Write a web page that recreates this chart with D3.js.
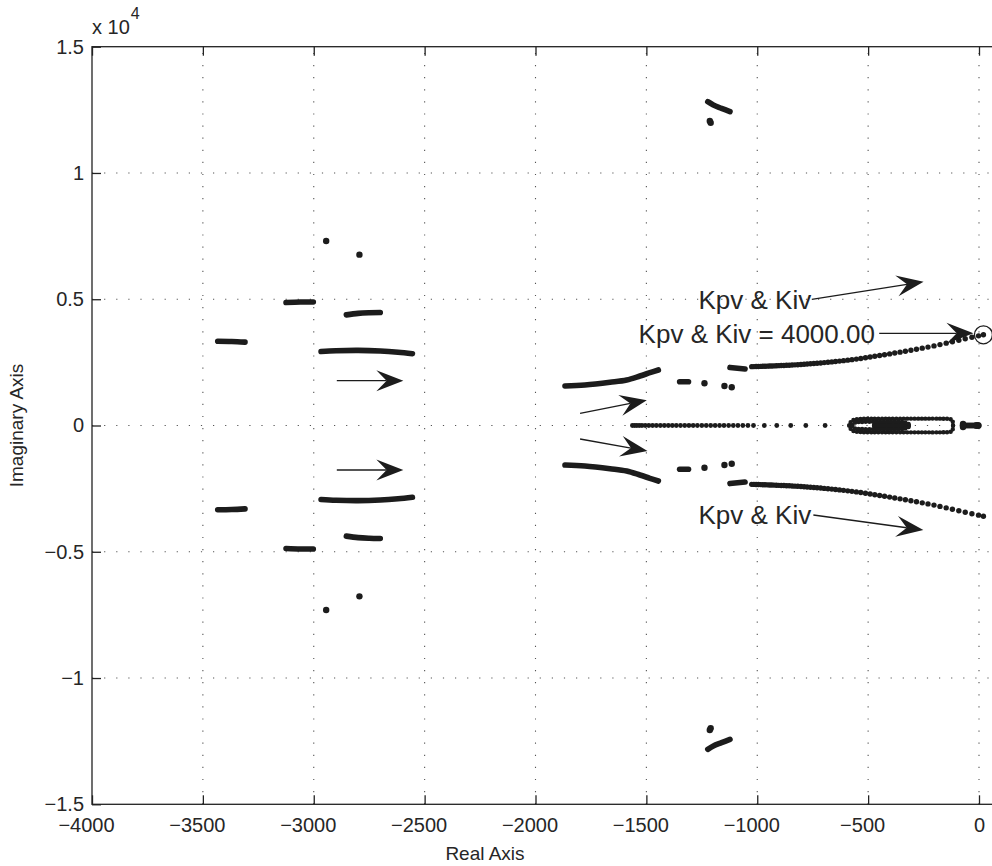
<!DOCTYPE html>
<html><head><meta charset="utf-8">
<script src="https://cdn.jsdelivr.net/npm/d3@7"></script>
<style>
body{margin:0;background:#fff}
svg{display:block}
text{font-family:"Liberation Sans",Arial,Helvetica,sans-serif;fill:#262626}
</style>
</head><body>
<svg id="c" width="992" height="866"></svg>
<script>
// ---------- tick data ----------
const xTicks = [-4000,-3500,-3000,-2500,-2000,-1500,-1000,-500,0];
const xTickLabels = ["−4000","−3500","−3000","−2500","−2000","−1500","−1000","−500","0"];
const yTicks = [-15000,-10000,-5000,0,5000,10000,15000];
const yTickLabels = ["−1.5","−1","−0.5","0","0.5","1","1.5"];

// ---------- root locus data (upper half; lower half is the conjugate) ----------
// dense (continuous-looking) locus segments
const solidSegments = [
  [[-3433,3335],[-3370,3325],[-3310,3300]],
  [[-3125,4870],[-3060,4890],[-3002,4890]],
  [[-2853,4380],[-2800,4440],[-2750,4465],[-2700,4475]],
  [[-2967,2930],[-2900,2960],[-2800,2975],[-2700,2950],[-2620,2900],[-2555,2840]],
  [[-1867,1564],[-1777,1604],[-1664,1711],[-1589,1802],[-1529,1960],[-1484,2091],[-1446,2198]],
  [[-1350,1735],[-1310,1735]],
  [[-1123,2300],[-1055,2240]],
  [[-1223,12822],[-1198,12692],[-1161,12560],[-1123,12426]],
  [[-470,0],[-320,0]],
  [[-72,0],[-5,0]]
];
// isolated locus points
const isolatedDots = [
  [-2944,7306],[-2794,6765],[-1238,1671],[-1148,1564],[-1115,1513],
  [-1210,11991],[-1214,12060],[-72,60],[-72,0],[-3,0],[-12,0]
];
// branch towards the right half plane
const rightBranch = [
  [-1025,2330],[-1015,2332],[-1005,2335],[-995,2338],[-985,2341],[-975,2344],[-965,2347],[-955,2350],
  [-945,2354],[-935,2357],[-925,2361],[-914,2365],[-903,2369],[-892,2373],[-880,2378],[-868,2383],
  [-856,2388],[-843,2394],[-830,2401],[-817,2408],[-803,2416],[-789,2424],[-775,2433],[-760,2443],
  [-745,2453],[-730,2464],[-714,2477],[-698,2490],[-681,2504],[-664,2519],[-647,2534],[-629,2551],
  [-611,2568],[-592,2587],[-573,2607],[-553,2630],[-533,2656],[-512,2683],[-491,2711],[-470,2740],
  [-448,2770],[-426,2800],[-403,2835],[-380,2870],[-356,2905],[-332,2940],[-307,2980],[-282,3020],
  [-256,3062],[-230,3105],[-203,3152],[-176,3204],[-148,3260],[-120,3318],[-91,3376],[-62,3434],
  [-32,3492],[-2,3550],[20,3592]
];
// points on the real axis
const realAxisDots = [
  -1563,-1553,-1543,-1532,-1520,-1505,-1489,-1472,-1455,-1437,-1419,-1401,-1383,-1365,-1346,-1327,
  -1308,-1289,-1270,-1250,-1230,-1210,-1190,-1170,-1150,-1129,-1108,-1087,-1065,-1042,-1017,-968,
  -912,-849,-781,-694
];
// small loop near the origin (drawn as closely packed points)
const loopOuter = [[-585,0],[-580,120],[-570,200],[-555,245],[-530,262],[-490,270],[-430,272],[-350,272],
  [-250,272],[-170,270],[-135,258],[-122,220],[-118,140],[-117,0]];
const loopInner = [[-572,30],[-560,110],[-530,140],[-470,148],[-400,148],[-340,135],[-318,70],[-316,0]];

// annotations
const arrows = [
  {from:[-2896,1774], to:[-2596,1774]},
  {from:[-2896,-1762], to:[-2596,-1762]},
  {from:[-1799,483], to:[-1498,1002]},
  {from:[-1799,-535], to:[-1495,-1010]},
  {from:[-754,4998], to:[-250,5695]},
  {from:[-450,3650], to:[-25,3650]},
  {from:[-747,-3544], to:[-251,-4138]}
];
const labels = [
  {text:"Kpv & Kiv", at:[-1265,4600], anchor:"start"},
  {text:"Kpv & Kiv = 4000.00", at:[-1535,3270], anchor:"start"},
  {text:"Kpv & Kiv", at:[-1265,-3900], anchor:"start"}
];
const endMarker = [20,3592];

// ---------- drawing ----------
const svg = d3.select("#c");
const x = d3.scaleLinear().domain([-4000,150]).range([92, 92 + 887/4000*4150]);
const y = d3.scaleLinear().domain([-15000,15000]).range([804.3,46.7]);
const X0 = x.range()[0], X1 = x.range()[1], Y0 = y.range()[1], Y1 = y.range()[0];
const ink = "#1c1c1c";

svg.append("defs").append("clipPath").attr("id","clip")
  .append("rect").attr("x",X0).attr("y",Y0).attr("width",X1-X0).attr("height",Y1-Y0);

// grid
const grid = svg.append("g").attr("stroke","#555").attr("stroke-width",1.1)
  .attr("stroke-dasharray","1.2 10.9");
grid.selectAll(".gx").data(xTicks.slice(1)).join("line")
  .attr("x1",d=>x(d)).attr("x2",d=>x(d)).attr("y1",Y1).attr("y2",Y0);
grid.selectAll(".gy").data(yTicks.slice(1,-1)).join("line")
  .attr("x1",X0).attr("x2",X1).attr("y1",d=>y(d)).attr("y2",d=>y(d));

// axes (ticks inside)
const fmtX = (d,i)=>xTickLabels[i];
const fmtY = (d,i)=>yTickLabels[i];
const axB = svg.append("g").attr("transform",`translate(0,${Y1})`)
  .call(d3.axisBottom(x).tickValues(xTicks).tickFormat(fmtX).tickSize(-9).tickPadding(13.5));
const axT = svg.append("g").attr("transform",`translate(0,${Y0})`)
  .call(d3.axisTop(x).tickValues(xTicks).tickFormat("").tickSize(-9));
const axL = svg.append("g").attr("transform",`translate(${X0},0)`)
  .call(d3.axisLeft(y).tickValues(yTicks).tickFormat(fmtY).tickSize(-9).tickPadding(8));
const axR = svg.append("g").attr("transform",`translate(${X1},0)`)
  .call(d3.axisRight(y).tickValues(yTicks).tickFormat("").tickSize(-9));
[axB,axT,axL,axR].forEach(a=>{
  a.selectAll("line").attr("stroke","#222").attr("stroke-width",1.3);
  a.selectAll("text").attr("font-size",20).attr("fill","#262626")
    .style("font-family","'Liberation Sans',Arial,sans-serif");
  a.select(".domain").remove();
});
axB.selectAll("text").attr("dx",(d,i)=>xTickLabels[i].startsWith("−") ? -6 : 0);
svg.append("rect").attr("x",X0).attr("y",Y0).attr("width",X1-X0).attr("height",Y1-Y0)
  .attr("fill","none").attr("stroke","#222").attr("stroke-width",1.3);

// exponent label
const ex = svg.append("text").attr("x",92).attr("y",34).attr("font-size",20);
ex.append("tspan").text("x 10");
ex.append("tspan").attr("font-size",16).attr("dy",-15).attr("dx",1).text("4");

// axis titles
svg.append("text").attr("x",485).attr("y",860).attr("text-anchor","middle")
  .attr("font-size",19).text("Real Axis");
svg.append("text").attr("transform",`translate(23,${(Y0+Y1)/2}) rotate(-90)`)
  .attr("text-anchor","middle").attr("font-size",19).text("Imaginary Axis");

// locus marks
const plot = svg.append("g").attr("clip-path","url(#clip)");
const conj = pts => pts.map(([a,b])=>[a,-b]);
const line = d3.line().x(d=>x(d[0])).y(d=>y(d[1])).curve(d3.curveCatmullRom);
const allSolid = solidSegments.concat(solidSegments.map(conj));
plot.selectAll(".seg").data(allSolid).join("path")
  .attr("d",line).attr("fill","none").attr("stroke",ink)
  .attr("stroke-width",5.6).attr("stroke-linecap","round");

const loops = [loopOuter, conj(loopOuter), loopInner, conj(loopInner)];
plot.selectAll(".loop").data(loops).join("path")
  .attr("d",line).attr("fill","none").attr("stroke",ink)
  .attr("stroke-width",4.4).attr("stroke-linecap","round").attr("stroke-dasharray","0 3.6");

plot.selectAll(".idot").data(isolatedDots.concat(conj(isolatedDots))).join("circle")
  .attr("cx",d=>x(d[0])).attr("cy",d=>y(d[1])).attr("r",3.2).attr("fill",ink);
plot.selectAll(".bdot").data(rightBranch.concat(conj(rightBranch))).join("circle")
  .attr("cx",d=>x(d[0])).attr("cy",d=>y(d[1])).attr("r",2.7).attr("fill",ink);
plot.selectAll(".rdot").data(realAxisDots).join("circle")
  .attr("cx",d=>x(d)).attr("cy",y(0)).attr("r",2.4).attr("fill",ink);

// end marker
plot.append("circle").attr("cx",x(endMarker[0])).attr("cy",y(endMarker[1])).attr("r",9)
  .attr("fill","none").attr("stroke",ink).attr("stroke-width",1.3);

// arrows
function arrowPath(p1,p2){
  const x1=x(p1[0]), y1=y(p1[1]), x2=x(p2[0]), y2=y(p2[1]);
  const a=Math.atan2(y2-y1,x2-x1), L=27, Wd=10.5, N=0.62*L;
  const rot=(u,v)=>[x2+u*Math.cos(a)-v*Math.sin(a), y2+u*Math.sin(a)+v*Math.cos(a)];
  const pts=[rot(0,0),rot(-L,-Wd),rot(-N,0),rot(-L,Wd)];
  return {line:[[x1,y1],rot(-N,0)], head:pts};
}
const ag = svg.append("g");
arrows.forEach(ar=>{
  const p=arrowPath(ar.from,ar.to);
  ag.append("line").attr("x1",p.line[0][0]).attr("y1",p.line[0][1])
    .attr("x2",p.line[1][0]).attr("y2",p.line[1][1]).attr("stroke",ink).attr("stroke-width",1.3);
  ag.append("path").attr("d","M"+p.head.map(q=>q.join(",")).join("L")+"Z").attr("fill",ink);
});
svg.selectAll(".lbl").data(labels).join("text")
  .attr("x",d=>x(d.at[0])).attr("y",d=>y(d.at[1])).attr("text-anchor",d=>d.anchor)
  .attr("font-size",26).text(d=>d.text);
</script>
</body></html>
